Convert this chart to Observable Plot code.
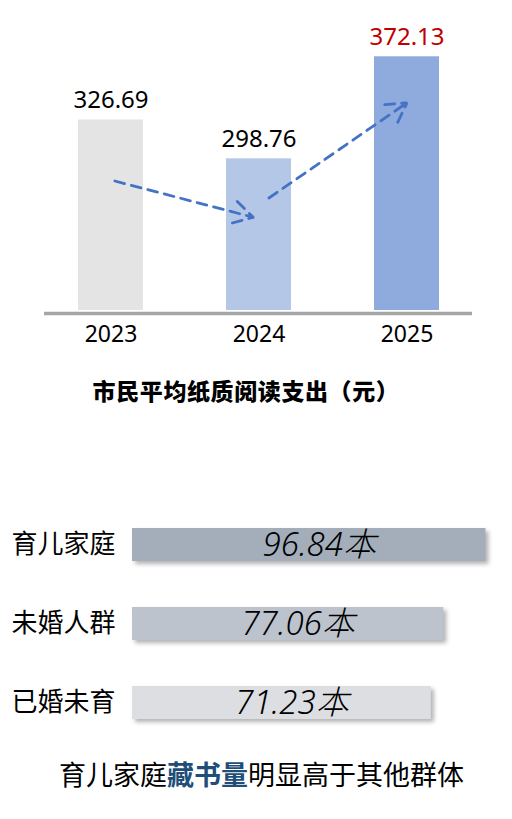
<!DOCTYPE html>
<html><head><meta charset="utf-8">
<script src="https://cdn.jsdelivr.net/npm/d3@7"></script>
<script src="https://cdn.jsdelivr.net/npm/@observablehq/plot@0.6"></script>
<style>
body{margin:0;background:#fff;}
#wrap{position:relative;width:512px;height:819px;overflow:hidden;font-family:"Noto Sans","Noto Sans CJK SC",sans-serif;color:#000;}
#top{position:absolute;left:0;top:0;}
#title{position:absolute;left:0;top:375px;width:492px;text-align:center;font-weight:900;font-size:23px;letter-spacing:0.6px;line-height:30px;font-family:"Noto Sans CJK SC",sans-serif;}
#bottom{position:absolute;left:0;top:500px;}
#caption{position:absolute;left:0;top:759px;width:523px;text-align:center;font-size:27px;line-height:30px;font-family:"Noto Sans CJK SC",sans-serif;}
#caption .hl{color:#1f4e79;font-weight:bold;}
</style></head>
<body>
<div id="wrap">
  <div id="top"></div>
  <div id="title">市民平均纸质阅读支出（元）</div>
  <div id="bottom"></div>
  <div id="caption">育儿家庭<span class="hl">藏书量</span>明显高于其他群体</div>
</div>
<script>
// ---- data ----
const years = ["2023", "2024", "2025"];
const spending = [326.69, 298.76, 372.13];
const trendFrom = ["2023", "2024"];
const trendTo = ["2024", "2025"];
const groups = ["育儿家庭", "未婚人群", "已婚未育"];
const books = [96.84, 77.06, 71.23];
const bookUnit = "本";

// ---- styles ----
const barColors = ["#e4e4e4", "#b4c7e7", "#8faadc"];
const groupColors = ["#a3aeba", "#bcc3cc", "#dcdee2"];
const font = '"Noto Sans","Noto Sans CJK SC",sans-serif';

const spend = years.map((year, i) => ({year, value: spending[i]}));
const trend = trendFrom.map((f, i) => ({
  from: f, to: trendTo[i],
  v1: spending[years.indexOf(f)], v2: spending[years.indexOf(trendTo[i])]
}));
const rows = groups.map((group, i) => ({group, value: books[i]}));

const yMin = 189.7, yMax = 412.6;
const topChart = Plot.plot({
  width: 512, height: 360,
  marginTop: 0, marginBottom: 50, marginLeft: 44, marginRight: 40,
  style: {fontFamily: font, fontSize: "23px", color: "#000", background: "transparent", overflow: "visible"},
  x: {type: "band", domain: years, paddingInner: 0.5623, paddingOuter: 0.222, tickSize: 0, tickPadding: 15, label: null},
  y: {domain: [yMin, yMax], axis: null},
  color: {domain: years, range: barColors},
  marks: [
    Plot.barY(spend, {x: "year", y1: yMin, y2: "value", fill: "year"}),
    Plot.ruleY([yMin], {stroke: "#a6a6a6", strokeWidth: 3.5, dy: 3}),
    Plot.text(spend.filter(d => d.year !== "2025"), {x: "year", y: "value", text: d => d.value.toFixed(2), dy: -12, lineAnchor: "bottom", fontSize: 24, fill: "#000"}),
    Plot.text(spend.filter(d => d.year === "2025"), {x: "year", y: "value", text: d => d.value.toFixed(2), dy: -12, lineAnchor: "bottom", fontSize: 24, fill: "#c00000"}),
    Plot.arrow([trend[0]], {x1: "from", x2: "to", y1: "v1", y2: "v2", dy: 60, stroke: "#4472c4", strokeWidth: 2.8, strokeDasharray: "10,7", headLength: 12, headAngle: 60, insetStart: 4, insetEnd: 6}),
    Plot.arrow([trend[1]], {x1: "from", x2: "to", y1: "v1", y2: "v2", dy: 46, stroke: "#4472c4", strokeWidth: 2.8, strokeDasharray: "10,7", headLength: 12, headAngle: 60, insetStart: 12, insetEnd: 0})
  ]
});
document.getElementById("top").append(topChart);

const xMin = -68.9, xMax = 109.3;
const bottomChart = Plot.plot({
  width: 512, height: 247,
  marginTop: 0, marginBottom: 0, marginLeft: 132, marginRight: 0,
  style: {fontFamily: font, fontSize: "26px", color: "#000", background: "transparent", overflow: "visible"},
  y: {type: "band", domain: groups, paddingInner: 0.582, paddingOuter: 0.354, tickSize: 0, tickPadding: 17, label: null},
  x: {domain: [xMin, xMax], axis: null},
  color: {domain: groups, range: groupColors},
  marks: [
    Plot.barX(rows, {y: "group", x1: xMin, x2: "value", fill: "group", imageFilter: "drop-shadow(3px 3px 2px rgba(0,0,0,0.3))"}),
    Plot.text(rows, {y: "group", x: d => (xMin + d.value) / 2, text: d => d.value.toFixed(2) + bookUnit, fontSize: 33, fontStyle: "italic", fontWeight: 300, dx: 10, fill: "#000"})
  ]
});
document.getElementById("bottom").append(bottomChart);
</script>
</body></html>
